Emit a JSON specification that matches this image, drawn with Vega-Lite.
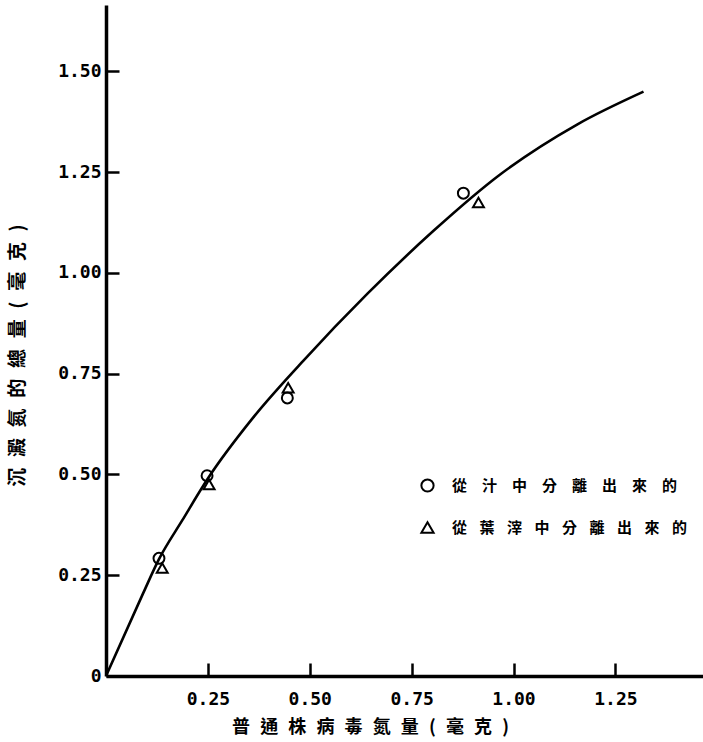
{
  "$schema": "https://vega.github.io/schema/vega-lite/v6.json",
  "width": 597,
  "height": 671,
  "autosize": {"type": "none"},
  "padding": {"left": 106, "top": 5, "right": 0, "bottom": 66},
  "background": "white",
  "config": {
    "view": {"stroke": null},
    "axis": {
      "grid": false,
      "domainColor": "black",
      "domainWidth": 3.5,
      "ticks": true,
      "tickColor": "black",
      "tickOpacity": 1,
      "tickWidth": 2.5,
      "labelFont": "DejaVu Sans Mono",
      "labelFontWeight": "bold",
      "labelFontSize": 18,
      "labelColor": "black",
      "titleFont": "Noto Sans CJK TC",
      "titleFontWeight": "bold",
      "titleFontSize": 18,
      "titleColor": "black"
    }
  },
  "layer": [
    {
      "data": {
        "values": [
          {"x": 0, "y": 0},
          {"x": 0.091, "y": 0.205},
          {"x": 0.13, "y": 0.29},
          {"x": 0.187, "y": 0.386},
          {"x": 0.25, "y": 0.49},
          {"x": 0.361, "y": 0.641},
          {"x": 0.484, "y": 0.782},
          {"x": 0.641, "y": 0.948},
          {"x": 0.803, "y": 1.104},
          {"x": 0.968, "y": 1.245},
          {"x": 1.157, "y": 1.369},
          {"x": 1.319, "y": 1.45}
        ]
      },
      "mark": {"type": "line", "interpolate": "monotone", "color": "black", "strokeWidth": 2.6},
      "encoding": {
        "x": {
          "field": "x", "type": "quantitative",
          "scale": {"domain": [0, 1.465], "nice": false},
          "axis": {
            "values": [0.25, 0.5, 0.75, 1, 1.25],
            "format": ".2f",
            "tickSize": -13,
            "labelPadding": 27,
            "title": "普\u2002\u200a通\u2002\u200a株\u2002\u200a病\u2002\u200a毒\u2002\u200a氮\u2002\u200a量\u2002\u200a(\u2002\u200a毫\u2002\u200a克\u2002\u200a)",
            "titleX": 264,
            "titleY": 51,
            "titleBaseline": "middle",
            "titleAlign": "center"
          }
        },
        "y": {
          "field": "y", "type": "quantitative",
          "scale": {"domain": [0, 1.665], "nice": false},
          "axis": {
            "values": [0, 0.25, 0.5, 0.75, 1, 1.25, 1.5],
            "labelExpr": "datum.value == 0 ? '0' : format(datum.value, '.2f')",
            "tickSize": -13,
            "labelPadding": 18,
            "title": "沉\u2002\u200a澱\u2002\u200a氮\u2002\u200a的\u2002\u200a總\u2002\u200a量\u2002\u200a(\u2002\u200a毫\u2002\u200a克\u2002\u200a)",
            "titleFontSize": 19,
            "titleX": -89,
            "titleY": 350,
            "titleBaseline": "middle",
            "titleAlign": "center"
          }
        }
      }
    },
    {
      "data": {
        "values": [
          {"x": 0.13, "y": 0.292, "source": "從\u2003汁\u2003中\u2003分\u2003離\u2003出\u2003來\u2003的"},
          {"x": 0.248, "y": 0.497, "source": "從\u2003汁\u2003中\u2003分\u2003離\u2003出\u2003來\u2003的"},
          {"x": 0.445, "y": 0.69, "source": "從\u2003汁\u2003中\u2003分\u2003離\u2003出\u2003來\u2003的"},
          {"x": 0.877, "y": 1.198, "source": "從\u2003汁\u2003中\u2003分\u2003離\u2003出\u2003來\u2003的"},
          {"x": 0.138, "y": 0.268, "source": "從\u2002\u2004葉\u2002\u2004滓\u2002\u2004中\u2002\u2004分\u2002\u2004離\u2002\u2004出\u2002\u2004來\u2002\u2004的"},
          {"x": 0.253, "y": 0.475, "source": "從\u2002\u2004葉\u2002\u2004滓\u2002\u2004中\u2002\u2004分\u2002\u2004離\u2002\u2004出\u2002\u2004來\u2002\u2004的"},
          {"x": 0.447, "y": 0.715, "source": "從\u2002\u2004葉\u2002\u2004滓\u2002\u2004中\u2002\u2004分\u2002\u2004離\u2002\u2004出\u2002\u2004來\u2002\u2004的"},
          {"x": 0.914, "y": 1.175, "source": "從\u2002\u2004葉\u2002\u2004滓\u2002\u2004中\u2002\u2004分\u2002\u2004離\u2002\u2004出\u2002\u2004來\u2002\u2004的"}
        ]
      },
      "mark": {"type": "point", "filled": false, "color": "black", "strokeWidth": 2, "size": 120, "opacity": 1},
      "encoding": {
        "x": {"field": "x", "type": "quantitative"},
        "y": {"field": "y", "type": "quantitative"},
        "shape": {
          "field": "source", "type": "nominal",
          "scale": {
            "domain": ["從\u2003汁\u2003中\u2003分\u2003離\u2003出\u2003來\u2003的", "從\u2002\u2004葉\u2002\u2004滓\u2002\u2004中\u2002\u2004分\u2002\u2004離\u2002\u2004出\u2002\u2004來\u2002\u2004的"],
            "range": ["circle", "triangle-up"]
          },
          "legend": {
            "orient": "none",
            "legendX": 314,
            "legendY": 473,
            "title": null,
            "padding": 0,
            "labelFont": "Noto Sans CJK TC",
            "labelFontSize": 15,
            "labelFontWeight": "bold",
            "labelColor": "black",
            "labelLimit": 400,
            "labelOffset": 17,
            "symbolSize": 150,
            "symbolStrokeWidth": 2,
            "symbolStrokeColor": "black",
            "symbolFillColor": "transparent",
            "rowPadding": 22
          }
        }
      }
    }
  ]
}
